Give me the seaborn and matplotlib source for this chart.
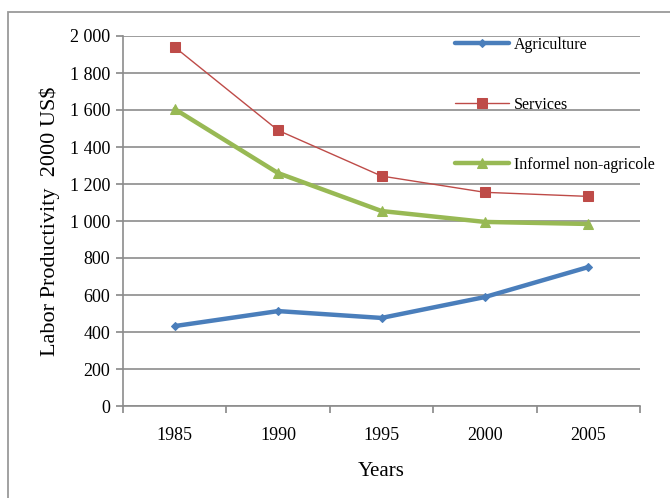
import matplotlib
matplotlib.use("Agg")
import matplotlib.pyplot as plt
import seaborn as sns
import pandas as pd
from matplotlib.patches import Rectangle
from matplotlib.ticker import FuncFormatter, FixedLocator

years = ["1985", "1990", "1995", "2000", "2005"]
agriculture = [432, 513, 476, 589, 751]
services = [1940, 1490, 1243, 1155, 1133]
informal = [1605, 1259, 1054, 995, 984]
series_names = ["Agriculture", "Services", "Informel non-agricole"]

sns.set_theme(style="white")
plt.rcParams["font.family"] = ["Liberation Serif", "DejaVu Serif"]
plt.rcParams["text.color"] = "black"
plt.rcParams["axes.labelcolor"] = "black"
plt.rcParams["xtick.color"] = "black"
plt.rcParams["ytick.color"] = "black"

fig = plt.figure(figsize=(6.70, 4.98), dpi=100)
fig.patches.append(Rectangle((8/670, -0.1), 1.2, 1 - 12/498 + 0.1, transform=fig.transFigure,
                             fill=False, edgecolor="#9a9a9a", linewidth=1.3, zorder=0))
ax = fig.add_axes([123/670, 1 - 406/498, (640 - 123)/670, (406 - 36)/498])

idx = list(range(len(years)))
styles = [
    (agriculture, "#4a7ebb", "D", 3.2, 4),
    (services, "#be4b48", "s", 1.0, 7),
    (informal, "#98b954", "^", 3.2, 7),
]
for name, (vals, col, mk, lw, ms) in zip(series_names, styles):
    df = pd.DataFrame({"x": idx, "y": vals})
    sns.lineplot(data=df, x="x", y="y", ax=ax, color=col, marker=mk, linewidth=lw,
                 markersize=ms, markeredgecolor=col, label=name)

ax.set_xlim(-0.5, len(years) - 0.5)
ax.set_ylim(0, 2000)
ax.set_yticks(range(0, 2001, 200))
ax.yaxis.set_major_formatter(FuncFormatter(lambda v, p: f"{int(v):,}".replace(",", " ")))
ax.grid(axis="y", color="#8c8c8c", linewidth=1.2)
ax.set_axisbelow(True)

ax.xaxis.set_major_locator(FixedLocator([i - 0.5 for i in range(len(years) + 1)]))
ax.xaxis.set_minor_locator(FixedLocator(idx))
ax.set_xticklabels([""] * (len(years) + 1))
ax.set_xticklabels(years, minor=True)
ax.tick_params(axis="x", which="major", length=5, color="#8c8c8c", direction="out", bottom=True)
ax.tick_params(axis="x", which="minor", length=0, labelsize=13, pad=15, bottom=True)
ax.tick_params(axis="y", length=5, color="#8c8c8c", labelcolor="black", direction="out", left=True,
               labelsize=13, pad=4)

for s in ["top", "right"]:
    ax.spines[s].set_visible(False)
for s in ["left", "bottom"]:
    ax.spines[s].set_color("#8c8c8c")
    ax.spines[s].set_linewidth(1.2)

ax.set_xlabel("Years", fontsize=15, labelpad=13, color="black")
ax.set_ylabel("Labor Productivity  2000 US$", fontsize=16, labelpad=7, color="black")

leg = ax.legend(loc="upper left", bbox_to_anchor=(450/670, 1 - 32/498), bbox_transform=fig.transFigure,
                frameon=False, fontsize=11.5, labelspacing=2.75, handlelength=3.4,
                handletextpad=0.3, borderaxespad=0, borderpad=0.3, labelcolor="black")

fig.savefig("out.png", dpi=100)
